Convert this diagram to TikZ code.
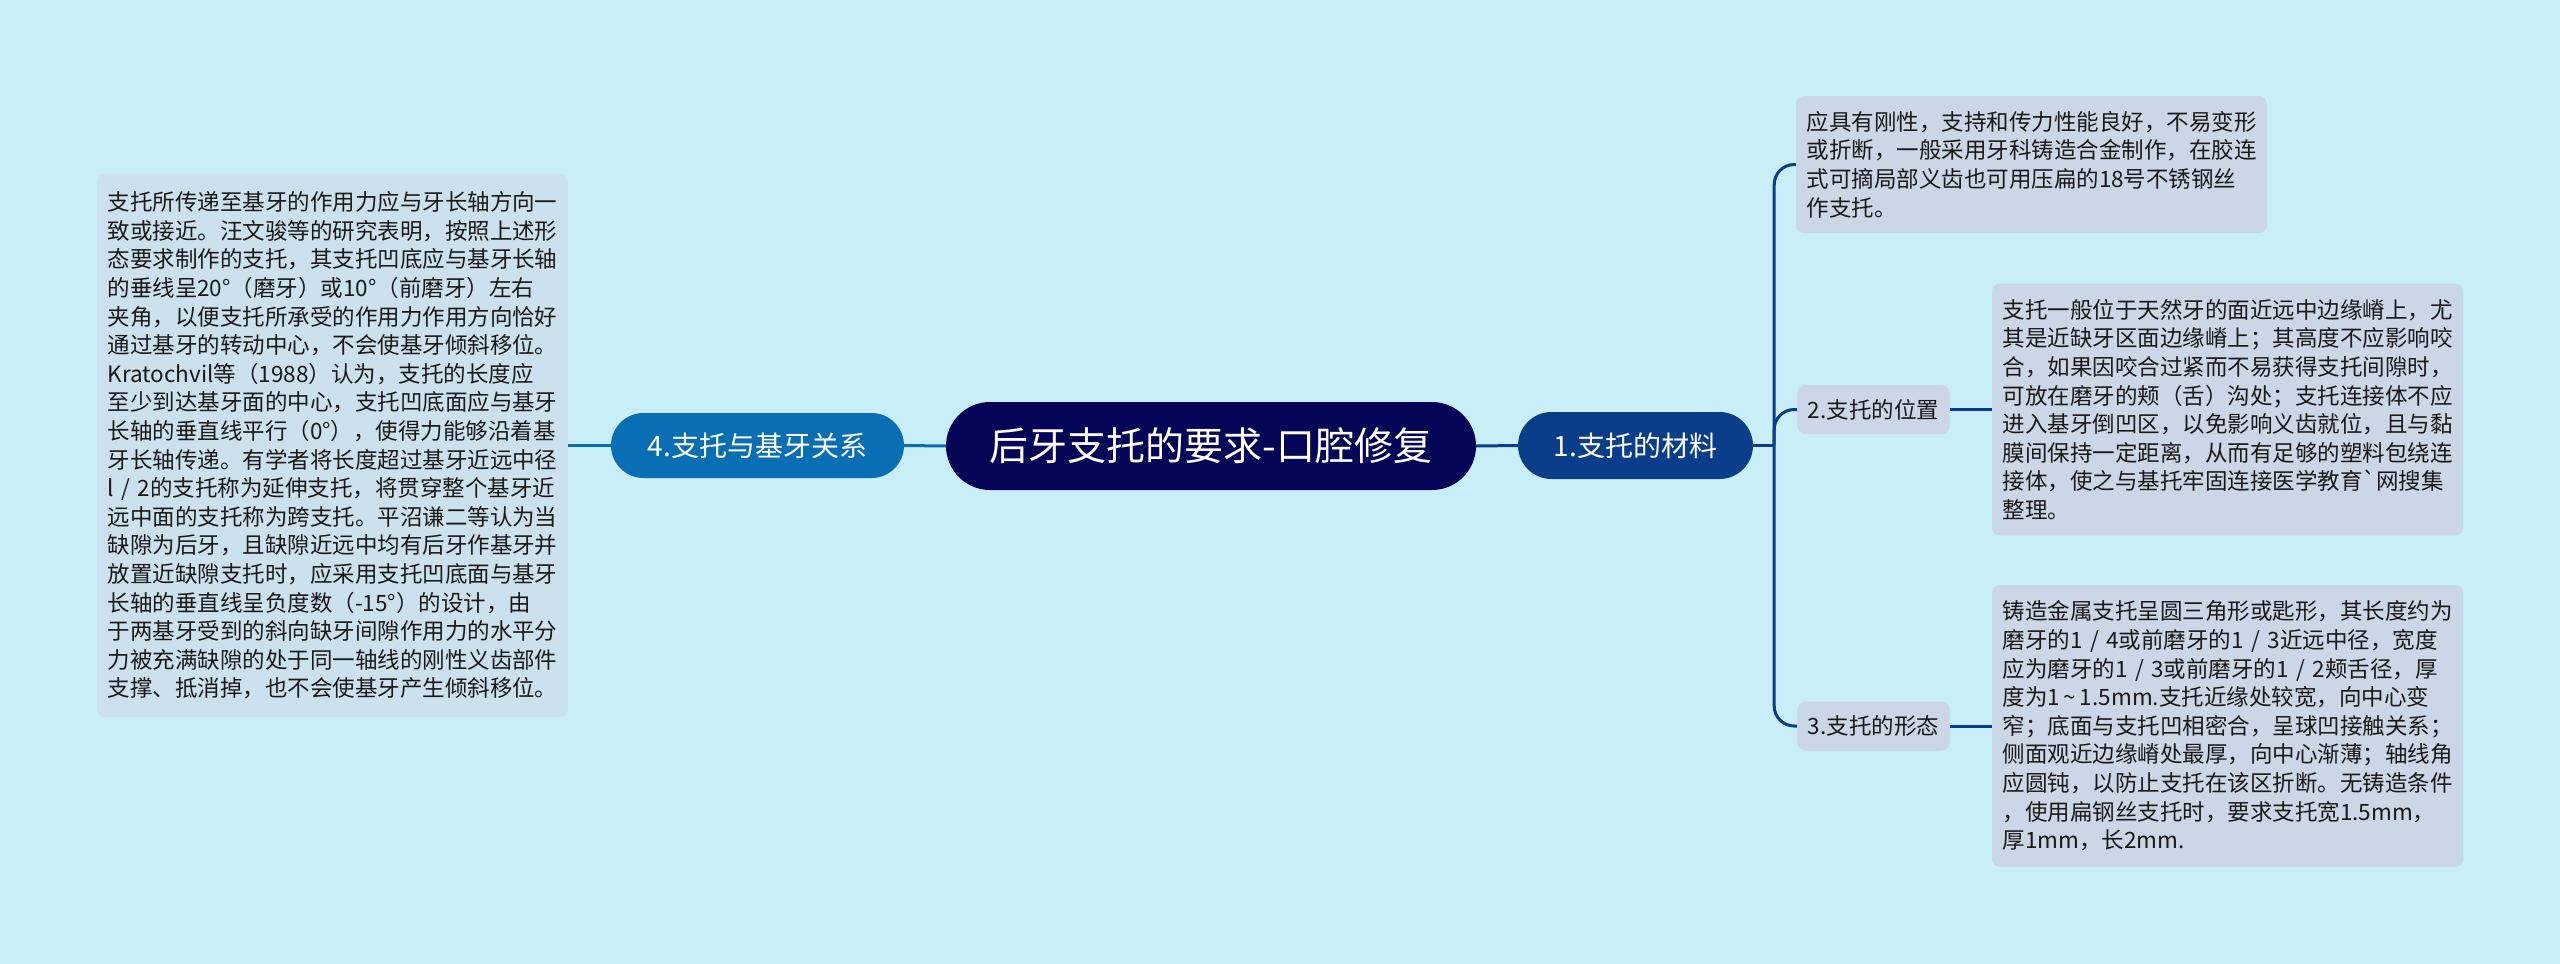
\documentclass[tikz,border=0pt]{standalone}
\usepackage{fontspec}
\setmainfont{Noto Sans CJK SC}
\usepackage{tikz}
\usetikzlibrary{calc}

\definecolor{bgcyan}{RGB}{200,239,247}
\definecolor{rootblue}{RGB}{5,5,87}
\definecolor{darkbranch}{RGB}{11,62,138}
\definecolor{midbranch}{RGB}{10,110,180}
\definecolor{notegray}{RGB}{203,214,230}
\definecolor{noteblue}{RGB}{204,225,238}
\definecolor{inktext}{RGB}{25,25,25}

\begin{document}
\begin{tikzpicture}[x=1pt, y=-1pt,
  pill/.style={rounded corners=#1, text=white, inner sep=0pt, align=center},
  note/.style={fill=notegray, rounded corners=8pt, text=inktext, inner xsep=10.5pt, inner ysep=0pt,
    text width=450pt, align=left, font=\fontsize{22.5}{28.6}\selectfont},
  tag/.style={fill=notegray, rounded corners=8pt, text=inktext, inner xsep=10.5pt, inner ysep=0pt,
    minimum height=49pt, font=\fontsize{22.5}{28.6}\selectfont},
  link/.style={line width=3pt}]
  \useasboundingbox (0,0) rectangle (2560,964);
  \fill[bgcyan] (0,0) rectangle (2560,964);

  % centre and first level
  \node[pill=44pt, fill=rootblue, minimum width=530pt, minimum height=88pt,
    font=\fontsize{39}{39}\selectfont] (root) at (1211,446) {后牙支托的要求-口腔修复};
  \node[pill=32.5pt, fill=midbranch, minimum width=293pt, minimum height=65pt,
    font=\fontsize{28}{28}\selectfont] (rel) at (757.5,445.5) {4.支托与基牙关系};
  \node[pill=33.5pt, fill=darkbranch, minimum width=235pt, minimum height=67pt,
    font=\fontsize{28}{28}\selectfont] (mat) at (1635.5,445.5) {1.支托的材料};

  % left note
  \node[note, fill=noteblue, minimum height=543pt] (relnote) at (332.5,445.5) {%
    支托所传递至基牙的作用力应与牙长轴方向一\\
    致或接近。汪文骏等的研究表明，按照上述形\\
    态要求制作的支托，其支托凹底应与基牙长轴\\
    的垂线呈20°（磨牙）或10°（前磨牙）左右\\
    夹角，以便支托所承受的作用力作用方向恰好\\
    通过基牙的转动中心，不会使基牙倾斜移位。\\
    Kratochvil等（1988）认为，支托的长度应\\
    至少到达基牙面的中心，支托凹底面应与基牙\\
    长轴的垂直线平行（0°），使得力能够沿着基\\
    牙长轴传递。有学者将长度超过基牙近远中径\\
    l~/~2的支托称为延伸支托，将贯穿整个基牙近\\
    远中面的支托称为跨支托。平沼谦二等认为当\\
    缺隙为后牙，且缺隙近远中均有后牙作基牙并\\
    放置近缺隙支托时，应采用支托凹底面与基牙\\
    长轴的垂直线呈负度数（-15°）的设计，由\\
    于两基牙受到的斜向缺牙间隙作用力的水平分\\
    力被充满缺隙的处于同一轴线的刚性义齿部件\\
    支撑、抵消掉，也不会使基牙产生倾斜移位。};

  % right side
  \node[note, minimum height=137pt] (matnote) at (2031.5,164.5) {%
    应具有刚性，支持和传力性能良好，不易变形\\
    或折断，一般采用牙科铸造合金制作，在胶连\\
    式可摘局部义齿也可用压扁的18号不锈钢丝\\
    作支托。};
  \node[tag] (pos) at (1873.5,409.5) {2.支托的位置};
  \node[note, minimum height=252pt] (posnote) at (2227.5,409.5) {%
    支托一般位于天然牙的面近远中边缘嵴上，尤\\
    其是近缺牙区面边缘嵴上；其高度不应影响咬\\
    合，如果因咬合过紧而不易获得支托间隙时，\\
    可放在磨牙的颊（舌）沟处；支托连接体不应\\
    进入基牙倒凹区，以免影响义齿就位，且与黏\\
    膜间保持一定距离，从而有足够的塑料包绕连\\
    接体，使之与基托牢固连接医学教育\textasciigrave 网搜集\\
    整理。};
  \node[tag] (shape) at (1873.5,726) {3.支托的形态};
  \node[note, minimum height=282pt] (shapenote) at (2227.5,726) {%
    铸造金属支托呈圆三角形或匙形，其长度约为\\
    磨牙的1~/~4或前磨牙的1~/~3近远中径，宽度\\
    应为磨牙的1~/~3或前磨牙的1~/~2颊舌径，厚\\
    度为1\,\textasciitilde\,1.5mm.支托近缘处较宽，向中心变\\
    窄；底面与支托凹相密合，呈球凹接触关系；\\
    侧面观近边缘嵴处最厚，向中心渐薄；轴线角\\
    应圆钝，以防止支托在该区折断。无铸造条件\\
    ，使用扁钢丝支托时，要求支托宽1.5mm，\\
    厚1mm，长2mm.};

  % connectors
  \draw[link, midbranch] (root.west) -- (rel.east);
  \draw[link, midbranch] (rel.west) -- (relnote.east);
  \draw[link, darkbranch] (root.east) -- (mat.west);
  \coordinate (trunk) at ($(mat.east)+(21,0)$);
  \draw[link, darkbranch] (mat.east) -- (trunk);
  \draw[link, darkbranch, rounded corners=20pt] (trunk) |- (matnote.west);
  \draw[link, darkbranch, rounded corners=20pt] (trunk) |- (pos.west);
  \draw[link, darkbranch, rounded corners=20pt] (trunk) |- (shape.west);
  \draw[link, darkbranch] (pos.east) -- (posnote.west);
  \draw[link, darkbranch] (shape.east) -- (shapenote.west);
\end{tikzpicture}
\end{document}
